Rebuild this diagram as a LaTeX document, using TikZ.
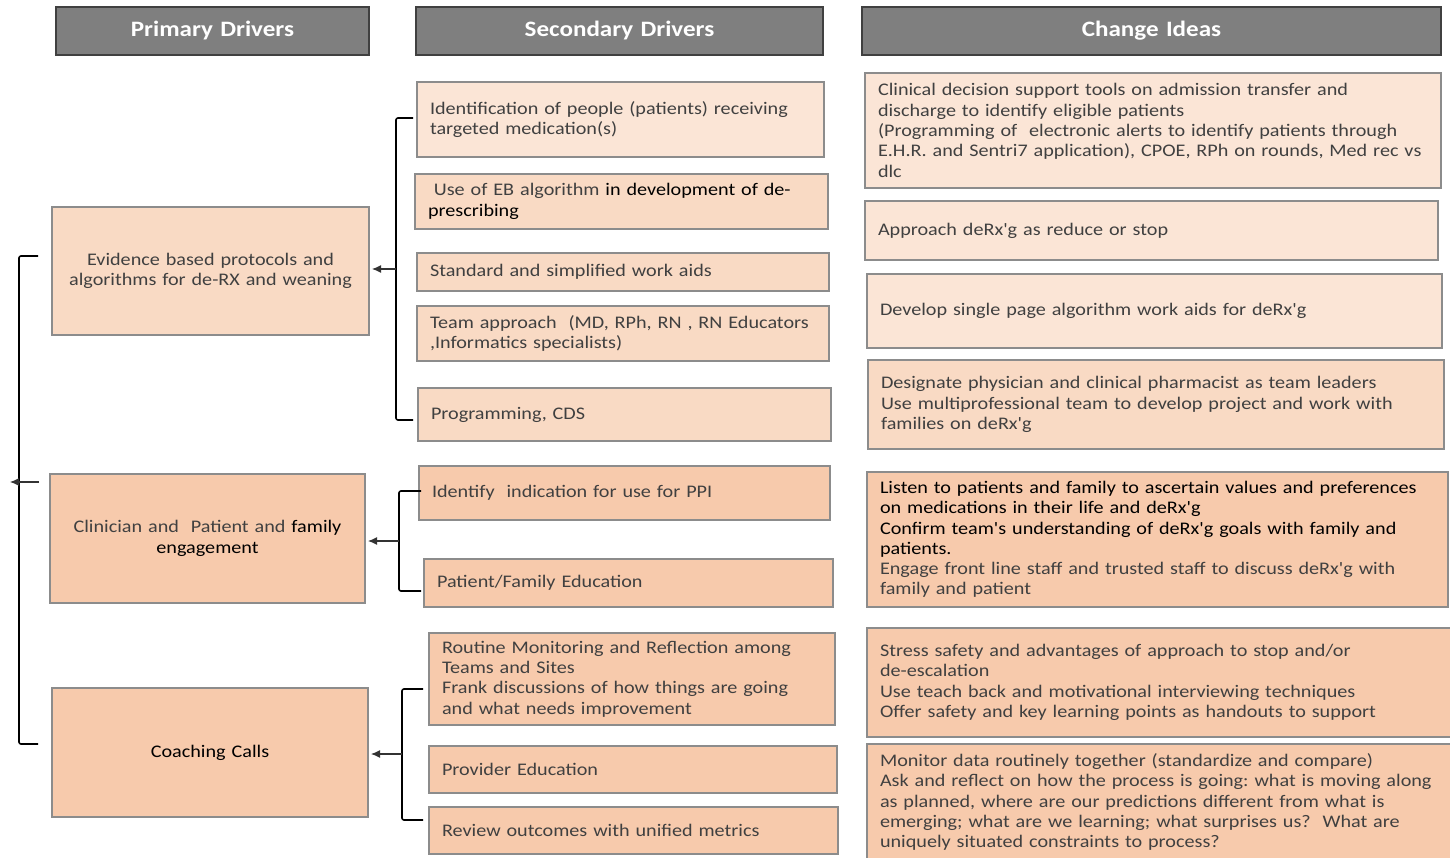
\documentclass[tikz,border=0pt]{standalone}
\usepackage{fontspec}
\setmainfont{Carlito}[FakeStretch=1.14, Ligatures=TeXOff]
\usepackage{tikz}
\usetikzlibrary{arrows.meta}
\definecolor{hdrfill}{HTML}{7F7F7F}
\definecolor{hdrline}{HTML}{404040}
\definecolor{boxline}{HTML}{8C8C8C}
\definecolor{peachL}{HTML}{FBE5D6}
\definecolor{peachM}{HTML}{F9DAC4}
\definecolor{peachD}{HTML}{F7CAAC}
\definecolor{txtgray}{HTML}{404040}
\tikzset{x=1pt, y=-1pt,
 box/.style={draw=boxline, line width=2pt, anchor=north west, inner xsep=13pt,
   inner ysep=0pt, align=left, text=txtgray, font=\fontsize{17.7}{20.3}\selectfont},
 header/.style={box, draw=hdrline, fill=hdrfill, text=white, align=center,
   minimum height=48pt, font=\fontsize{22}{26}\selectfont\bfseries},
 light/.style={fill=peachL},
 mid/.style={fill=peachM},
 dark/.style={fill=peachD},
 bracket/.style={line width=1.6pt, rounded corners=2pt},
 link/.style={line width=1.2pt, draw=black!80, shorten >=2pt,
   -{Latex[length=9pt,width=8pt]}},
}
\frenchspacing

\begin{document}
\begin{tikzpicture}
\useasboundingbox[fill=white] (0,0) rectangle (1450,858);

% column headers
\node[header, text width=287pt] (h1) at (55,6) {Primary Drivers};
\node[header, text width=381pt] (h2) at (415,6) {Secondary Drivers};
\node[header, text width=553pt] (h3) at (861,6) {Change Ideas};

% primary drivers
\node[box, mid, align=center, text width=291pt, minimum height=128pt] (p1) at (51,206)
  {Evidence based protocols and\\algorithms for de-RX and weaning};
\node[box, dark, align=center, text width=289pt, minimum height=129pt] (p2) at (49,473)
  {Clinician and\ \ Patient and \textcolor{black}{family}\\\textcolor{black}{engagement}};
\node[box, dark, align=center, text width=290pt, minimum height=129pt, text=black] (p3) at (51,687)
  {Coaching Calls};

% secondary drivers
\node[box, light, text width=381pt, minimum height=75pt] (s1) at (416,81)
  {Identification of people (patients) receiving\\targeted medication(s)};
\node[box, mid, text width=387pt, minimum height=55pt] (s2) at (414,173)
  {\ Use of EB algorithm \textcolor{black}{in development of de-}\\\textcolor{black}{prescribing}};
\node[box, mid, text width=386pt, minimum height=38pt] (s3) at (416,252)
  {Standard and simplified work aids};
\node[box, mid, text width=386pt, minimum height=55pt] (s4) at (416,305)
  {Team approach\ \ (MD, RPh, RN , RN Educators\\,Informatics specialists)};
\node[box, mid, text width=387pt, minimum height=53pt] (s5) at (417,387)
  {Programming, CDS};
\node[box, dark, text width=385pt, minimum height=54pt] (s6) at (418,465)
  {Identify\ \ indication for use for PPI};
\node[box, dark, text width=383pt, minimum height=48pt] (s7) at (423,558)
  {Patient/Family Education};
\node[box, dark, text width=380pt, minimum height=92pt] (s8) at (428,632)
  {Routine Monitoring and Reflection among\\Teams and Sites\\Frank discussions of how things are going\\and what needs improvement};
\node[box, dark, text width=382pt, minimum height=47pt] (s9) at (428,745)
  {Provider Education};
\node[box, dark, text width=383pt, minimum height=47pt] (s10) at (428,806)
  {Review outcomes with unified metrics};

% change ideas
\node[box, light, text width=550pt, minimum height=115pt] (c1) at (864,72)
  {Clinical decision support tools on admission transfer and\\discharge to identify eligible patients\\(Programming of\ \ electronic alerts to identify patients through\\E.H.R. and Sentri7 application), CPOE, RPh on rounds, Med rec vs\\dlc};
\node[box, light, text width=547pt, minimum height=59pt] (c2) at (864,200)
  {Approach deRx'g as reduce or stop};
\node[box, light, text width=549pt, minimum height=74pt] (c3) at (866,273)
  {Develop single page algorithm work aids for deRx'g};
\node[box, mid, text width=550pt, minimum height=89pt] (c4) at (867,359)
  {Designate physician and clinical pharmacist as team leaders\\Use multiprofessional team to develop project and work with\\families on deRx'g};
\node[box, dark, text width=555pt, minimum height=135pt] (c5) at (866,471)
  {\textcolor{black}{Listen to patients and family to ascertain values and preferences}\\\textcolor{black}{on medications in their life and deRx'g}\\\textcolor{black}{Confirm team's understanding of deRx'g goals with family and}\\\textcolor{black}{patients.}\\Engage front line staff and trusted staff to discuss deRx'g with\\family and patient};
\node[box, dark, text width=558pt, minimum height=109pt] (c6) at (866,627)
  {Stress safety and advantages of approach to stop and/or\\de-escalation\\Use teach back and motivational interviewing techniques\\Offer safety and key learning points as handouts to support};
\node[box, dark, text width=558pt, minimum height=116pt] (c7) at (866,743)
  {Monitor data routinely together (standardize and compare)\\Ask and reflect on how the process is going: what is moving along\\as planned, where are our predictions different from what is\\emerging; what are we learning; what surprises us?\ \ What are\\uniquely situated constraints to process?};

% brackets and arrows
\coordinate (b0a) at (38,256);
\coordinate (b0b) at (38,744);
\coordinate (b0m) at (19,482);
\coordinate (aimR) at (39,482);
\coordinate (aimL) at (10,482);
\draw[bracket] (b0a) -| (b0m) |- (b0b);
\draw[link, shorten >=0pt] (aimR) -- (aimL);

\coordinate (b1a) at (413,118);
\coordinate (b1b) at (413,420);
\coordinate (b1m) at (396,269);
\draw[bracket] (b1a) -| (b1m) |- (b1b);
\draw[link] (b1m) -- (p1.east |- b1m);

\coordinate (b2a) at (421,491);
\coordinate (b2b) at (421,591);
\coordinate (b2m) at (399,541);
\draw[bracket] (b2a) -| (b2m) |- (b2b);
\draw[link] (b2m) -- (p2.east |- b2m);

\coordinate (b3a) at (423,689);
\coordinate (b3b) at (423,820);
\coordinate (b3m) at (402,754);
\draw[bracket] (b3a) -| (b3m) |- (b3b);
\draw[link] (b3m) -- (p3.east |- b3m);
\end{tikzpicture}
\end{document}
